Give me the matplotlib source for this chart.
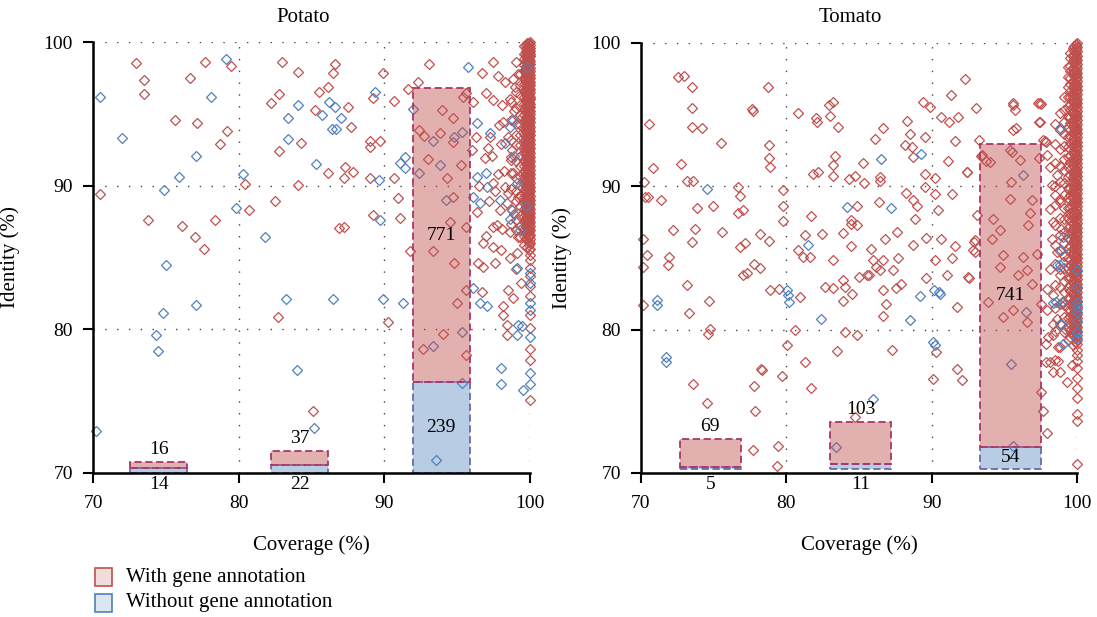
import matplotlib
matplotlib.use("Agg")
import matplotlib.pyplot as plt
from matplotlib.patches import Rectangle
from matplotlib.colors import to_rgba

plt.rcParams['font.family'] = ['Liberation Serif', 'DejaVu Serif']

RED = '#c0504d'
BLUE = '#4f81bd'

panel_titles = ['Potato', 'Tomato']
x_ticks = [70, 80, 90, 100]
y_ticks = [70, 80, 90, 100]
legend_labels = ['With gene annotation', 'Without gene annotation']

# ---------------- bar summaries (counts) ----------------
potato_bar_x = [74.5, 84.2, 93.9]
potato_with_counts = [16, 37, 771]
potato_without_counts = [14, 22, 239]
tomato_bar_x = [74.77, 85.12, 95.45]
tomato_with_counts = [69, 103, 741]
tomato_without_counts = [5, 11, 54]

# ---------------- Potato scatter ----------------
potato_with_pts = [
    (72.98, 98.52), (73.50, 97.36), (73.50, 96.38), (70.50, 89.40), (73.78, 87.62),
    (75.60, 94.60), (76.69, 97.50), (77.17, 94.34), (77.67, 98.63), (79.50, 98.33),
    (79.20, 93.83), (78.70, 92.90), (76.10, 87.20), (76.98, 86.40), (77.60, 85.60),
    (78.38, 87.62), (80.42, 90.10), (80.69, 88.30), (82.50, 88.94), (82.71, 80.85),
    (82.98, 98.63), (82.78, 96.38), (82.20, 95.78), (82.78, 92.44), (84.08, 97.94),
    (84.27, 93.00), (84.08, 90.03), (85.23, 95.30), (85.52, 96.55), (86.10, 96.85),
    (86.44, 97.82), (86.60, 98.45), (87.52, 95.50), (87.70, 94.11), (87.29, 91.33),
    (87.82, 90.98), (87.22, 90.56), (86.10, 90.90), (86.90, 87.04), (87.22, 87.15),
    (85.11, 74.33), (89.00, 93.11), (89.00, 92.72), (89.70, 93.10), (89.88, 97.82),
    (89.24, 96.08), (89.00, 90.52), (89.24, 87.97), (90.27, 80.50), (90.68, 95.92),
    (90.68, 90.52), (90.91, 89.13), (91.07, 87.73), (91.60, 96.70), (92.28, 97.24),
    (93.08, 98.45), (92.40, 93.88), (92.74, 93.46), (93.00, 91.84), (91.75, 85.42),
    (93.31, 85.42), (92.67, 78.62), (94.00, 79.69), (94.32, 90.52), (93.93, 95.27),
    (93.82, 93.70), (94.73, 94.69), (94.73, 93.07), (94.73, 89.24), (94.50, 87.50),
    (94.80, 84.65), (95.00, 81.82), (95.60, 78.23), (95.26, 91.44), (95.42, 96.20),
    (95.60, 96.43), (95.60, 82.75), (95.60, 87.15), (96.10, 95.85), (96.67, 97.82),
    (96.97, 96.43), (97.43, 98.63), (97.78, 97.66), (97.43, 95.97), (96.33, 88.20),
    (96.45, 84.60), (96.79, 84.37), (96.79, 86.00), (97.48, 85.76), (96.68, 82.63),
    (97.25, 93.42), (97.48, 90.17), (98.17, 94.46), (98.46, 82.75), (98.17, 81.59),
    (98.17, 81.01), (98.40, 80.32), (98.40, 79.62), (98.81, 82.17), (98.97, 96.89),
    (98.74, 92.49), (97.71, 87.27), (97.48, 87.15), (97.94, 88.31), (98.40, 88.78),
    (98.85, 90.86), (99.20, 86.46), (99.43, 94.81), (99.54, 90.86), (99.77, 85.76),
    (96.90, 91.90), (97.10, 92.60), (98.20, 91.00), (98.50, 89.50), (98.00, 85.50),
    (98.60, 86.80), (97.60, 89.60), (98.90, 88.00), (99.00, 84.20), (99.40, 83.20),
    (98.30, 97.20), (98.60, 96.00), (98.90, 95.20), (98.10, 95.60), (97.90, 94.20),
    (98.50, 93.40), (98.00, 92.90), (97.40, 92.10), (98.70, 91.80), (97.80, 90.80),
    (99.20, 89.20), (98.30, 89.90), (97.20, 88.90), (98.10, 87.00), (97.00, 86.50),
    (99.10, 85.30), (98.60, 85.00), (97.60, 84.60), (96.30, 93.40), (96.00, 92.50),
    (96.50, 90.00), (99.20, 97.80), (99.00, 98.60), (98.80, 97.40),
]
potato_without_pts = [
    (70.50, 96.20), (70.18, 72.90), (71.99, 93.30), (75.04, 84.49), (74.88, 89.71),
    (75.90, 90.63), (77.10, 92.09), (78.13, 96.20), (79.11, 98.82), (74.81, 81.17),
    (74.30, 79.62), (74.47, 78.51), (77.10, 81.70), (80.30, 90.82), (79.80, 88.43),
    (81.79, 86.41), (83.40, 94.69), (83.40, 93.25), (84.08, 95.62), (85.30, 91.51),
    (85.69, 94.92), (86.21, 95.85), (86.60, 95.50), (86.37, 93.93), (86.67, 93.93),
    (87.01, 94.74), (83.28, 82.10), (86.49, 82.10), (83.97, 77.19), (85.16, 73.13),
    (89.35, 96.55), (89.65, 90.40), (89.69, 87.62), (89.88, 82.10), (91.30, 81.82),
    (91.07, 91.56), (91.41, 92.02), (91.41, 91.21), (91.98, 95.34), (92.40, 90.86),
    (93.31, 93.11), (93.82, 91.44), (94.23, 89.00), (94.80, 93.42), (95.30, 93.76),
    (95.76, 98.28), (93.31, 78.85), (93.54, 70.92), (95.30, 76.26), (95.30, 79.78),
    (96.33, 94.34), (96.38, 90.63), (96.10, 89.24), (96.56, 88.78), (96.97, 90.86),
    (96.10, 82.87), (96.56, 81.82), (97.02, 81.59), (97.25, 93.65), (97.02, 89.94),
    (98.00, 77.30), (98.00, 76.21), (98.85, 94.57), (98.62, 94.11), (98.74, 88.31),
    (97.94, 89.00), (99.08, 84.26), (99.20, 80.32), (99.43, 80.20), (99.08, 79.62),
    (99.54, 75.79), (100.0, 76.95), (100.0, 76.21), (100.0, 79.50), (100.0, 81.36),
    (100.0, 81.82), (100.0, 83.20), (100.0, 83.90), (99.77, 98.28),
    (98.30, 93.00), (98.90, 92.10), (99.10, 90.20), (98.60, 87.70), (99.30, 86.90),
    (99.70, 88.60),
]
# dense column of hits near 100 % coverage (with annotation)
potato_col_x = [100.0, 99.95, 99.9, 99.85, 99.8, 99.75, 99.7, 99.6, 99.3, 99.0, 98.7]
potato_col_100 = [100.0, 99.8, 99.6, 99.4, 99.2, 99.0, 98.7, 98.5, 98.2, 98.0, 97.7, 97.5,
                  97.2, 97.0, 96.7, 96.5, 96.2, 96.0, 95.7, 95.5, 95.2, 95.0, 94.7, 94.4,
                  94.1, 93.8, 93.5, 93.2, 92.9, 92.6, 92.3, 92.0, 91.7, 91.4, 91.1, 90.8,
                  90.5, 90.2, 89.9, 89.6, 89.3, 89.0, 88.7, 88.4, 88.1, 87.8, 87.5, 87.2,
                  86.9, 86.6, 86.3, 86.0, 85.6, 85.2, 84.8, 84.3, 83.7, 83.0, 82.3, 81.0,
                  80.1, 78.6, 77.9, 75.1]
potato_col_9995 = [99.95, 99.65, 99.35, 99.05, 98.75, 98.45, 98.15, 97.85, 97.55, 97.25,
                   96.95, 96.65, 96.35, 96.05, 95.75, 95.45, 95.15, 94.85, 94.55, 94.25,
                   93.95, 93.65, 93.35, 93.05, 92.75, 92.45, 92.15, 91.85, 91.55, 91.25,
                   90.95, 90.65, 90.35, 90.05, 89.75, 89.45, 89.15, 88.85, 88.55, 88.25,
                   87.95, 87.65, 87.35, 87.05, 86.75, 86.4, 85.9]
potato_col_999 = [99.9, 99.5, 99.1, 98.8, 98.4, 98.1, 97.8, 97.4, 97.1, 96.8, 96.4, 96.1,
                  95.8, 95.4, 95.1, 94.8, 94.5, 94.2, 93.9, 93.6, 93.3, 93.0, 92.7, 92.4,
                  92.1, 91.8, 91.5, 91.2, 90.9, 90.6, 90.3, 90.0, 89.7, 89.4, 89.1, 88.8,
                  88.5, 88.2, 87.9, 87.6, 87.3, 87.0, 86.6, 86.1, 85.5]
potato_col_9985 = [99.75, 99.45, 99.15, 98.85, 98.55, 98.25, 97.95, 97.65, 97.35, 97.05,
                   96.75, 96.45, 96.15, 95.85, 95.55, 95.25, 94.95, 94.65, 94.35, 94.05,
                   93.75, 93.45, 93.15, 92.85, 92.55, 92.25, 91.95, 91.65, 91.35, 91.05,
                   90.75, 90.45, 90.15, 89.85, 89.55, 89.25, 88.95, 88.65, 88.35, 88.05,
                   87.75, 87.45, 87.15, 86.85, 86.5]
potato_col_998 = [99.9, 99.6, 99.3, 99.0, 98.6, 98.3, 97.9, 97.6, 97.2, 96.9, 96.5, 96.2,
                  95.8, 95.5, 95.1, 94.8, 94.4, 94.1, 93.7, 93.4, 93.0, 92.7, 92.3, 92.0,
                  91.6, 91.3, 90.9, 90.6, 90.2, 89.9, 89.5, 89.2, 88.8, 88.5, 88.1, 87.8,
                  87.4, 87.1, 86.7, 86.2]
potato_col_9975 = [99.55, 99.15, 98.75, 98.35, 97.95, 97.55, 97.15, 96.75, 96.35, 95.95,
                   95.55, 95.15, 94.75, 94.35, 93.95, 93.55, 93.15, 92.75, 92.35, 91.95,
                   91.55, 91.15, 90.75, 90.35, 89.95, 89.55, 89.15, 88.75, 88.35, 87.95,
                   87.55, 87.1]
potato_col_997 = [99.8, 99.4, 99.0, 98.6, 98.2, 97.8, 97.4, 97.0, 96.6, 96.3, 95.9, 95.6,
                  95.2, 94.8, 94.5, 94.1, 93.8, 93.4, 93.0, 92.6, 92.2, 91.9, 91.5, 91.2,
                  90.8, 90.4, 90.0, 89.6, 89.3, 88.9, 88.6, 88.2, 87.7, 87.3, 86.8, 86.3]
potato_col_996 = [99.7, 99.2, 98.8, 98.4, 98.0, 97.5, 97.1, 96.6, 96.2, 95.7, 95.3, 94.9,
                  94.4, 94.0, 93.6, 93.1, 92.7, 92.3, 91.8, 91.4, 91.0, 90.5, 90.1, 89.7,
                  89.2, 88.8, 88.4, 87.9, 87.5, 87.0, 86.5, 85.9]
potato_col_993 = [97.8, 97.0, 96.3, 95.6, 94.9, 94.2, 93.5, 92.8, 92.1, 91.4, 90.7, 90.0,
                  89.3, 88.6, 87.9, 87.2, 86.4]
potato_col_990 = [96.5, 95.4, 94.3, 93.5, 92.8, 91.7, 90.5, 89.6, 88.9, 87.6, 86.9]
potato_col_987 = [95.8, 94.6, 93.2, 92.0, 90.9, 89.8, 88.4, 87.3]

# ---------------- Tomato scatter ----------------
tomato_with_pts = [
    (72.57, 97.58), (72.98, 97.70), (73.48, 96.88), (73.48, 95.42), (73.48, 94.14),
    (74.17, 94.02), (70.57, 94.32), (70.85, 91.23), (70.21, 90.30), (70.28, 89.25),
    (70.46, 89.25), (71.35, 89.02), (72.75, 91.53), (73.14, 90.37), (73.60, 90.34),
    (75.48, 93.02), (73.87, 88.50), (74.97, 88.60), (72.18, 86.92), (73.71, 87.00),
    (73.48, 86.10), (70.16, 86.29), (70.39, 85.18), (70.16, 84.36), (71.95, 85.06),
    (71.88, 84.48), (70.11, 81.68), (73.14, 83.08), (73.32, 81.15), (74.70, 81.99),
    (74.74, 80.06), (74.63, 79.71), (73.60, 76.17), (74.56, 74.87), (75.59, 86.80),
    (76.69, 89.95), (76.81, 89.32), (76.65, 88.13), (76.99, 88.32), (76.81, 85.76),
    (77.15, 86.04), (76.99, 83.78), (77.27, 83.97), (77.77, 84.59), (78.18, 84.31),
    (77.65, 95.35), (77.68, 95.23), (78.76, 96.88), (78.80, 92.86), (78.80, 91.97),
    (78.87, 91.34), (78.18, 86.69), (78.80, 86.18), (78.87, 82.73), (79.51, 82.85),
    (78.25, 77.26), (78.30, 77.15), (77.77, 76.03), (77.84, 74.35), (77.68, 71.61),
    (79.44, 71.91), (79.33, 70.51), (79.67, 76.75), (79.79, 89.71), (79.79, 88.62),
    (79.79, 87.57), (80.82, 95.07), (80.02, 78.89), (80.59, 79.94), (80.93, 82.27),
    (80.82, 85.52), (81.12, 85.06), (81.28, 86.57), (81.69, 87.92), (81.62, 85.06),
    (81.28, 77.73), (81.67, 75.94), (82.03, 94.72), (82.08, 94.48), (83.00, 94.88),
    (82.95, 95.65), (83.22, 95.88), (83.57, 94.14), (83.34, 92.09), (83.22, 91.46),
    (81.85, 90.83), (82.19, 90.95), (83.18, 90.71), (82.47, 86.64), (83.22, 84.83),
    (82.65, 82.96), (83.22, 82.92), (83.52, 78.50), (83.91, 83.48), (84.03, 82.96),
    (83.91, 81.99), (84.07, 79.82), (84.83, 79.59), (84.55, 82.50), (84.32, 90.46),
    (84.71, 90.71), (84.83, 88.62), (83.91, 86.73), (84.48, 87.39), (84.48, 87.62),
    (84.83, 87.27), (84.48, 85.80), (85.01, 83.66), (85.29, 91.62), (85.34, 90.23),
    (85.52, 83.78), (85.81, 85.60), (85.70, 83.80), (85.93, 84.83), (86.16, 84.36),
    (86.09, 93.25), (86.62, 94.02), (86.43, 90.64), (86.43, 90.37), (86.39, 88.90),
    (86.78, 86.34), (86.62, 84.83), (86.43, 84.13), (86.66, 82.73), (86.62, 80.92),
    (86.89, 81.76), (87.34, 84.13), (87.58, 86.80), (87.69, 85.01), (87.53, 82.90),
    (87.87, 83.15), (87.28, 78.59), (84.71, 73.88), (88.27, 94.55), (88.50, 93.62),
    (88.15, 92.86), (88.62, 92.69), (88.73, 92.04), (88.22, 89.53), (88.73, 89.02),
    (89.00, 88.60), (88.85, 87.74), (88.69, 85.87), (89.53, 93.44), (89.41, 95.88),
    (89.87, 95.53), (89.57, 90.83), (89.53, 89.95), (89.64, 86.41), (89.64, 83.62),
    (90.22, 90.53), (90.22, 89.48), (90.45, 88.32), (90.22, 84.83), (90.67, 86.34),
    (91.02, 83.78), (90.11, 76.56), (90.28, 78.43), (90.63, 94.83), (91.17, 94.48),
    (91.36, 96.35), (91.82, 94.79), (91.59, 93.14), (91.13, 91.74), (91.43, 89.48),
    (91.43, 85.00), (91.59, 85.80), (91.77, 81.57), (91.77, 77.26), (92.12, 76.45),
    (92.28, 97.46), (92.46, 91.00), (92.57, 83.59), (92.90, 86.10), (92.97, 85.41),
    (93.08, 95.46), (93.26, 93.20), (93.42, 92.11), (93.72, 91.74), (93.15, 87.97),
    (95.60, 95.76), (95.76, 95.30), (95.60, 93.90), (95.83, 94.02), (95.37, 92.50),
    (95.48, 90.30), (97.43, 95.76), (97.55, 95.72), (97.36, 94.44), (97.78, 93.14),
    (97.89, 93.05), (97.39, 91.93), (97.94, 72.77), (97.66, 74.35), (97.55, 75.63),
    (97.89, 77.73), (98.35, 77.03), (98.70, 77.84), (97.89, 79.01), (98.35, 79.59),
    (97.55, 81.80), (97.94, 81.34), (98.35, 80.40),
    (94.00, 91.70), (93.43, 92.16), (95.50, 92.40), (96.07, 91.80), (95.38, 89.13),
    (96.87, 89.00), (94.23, 87.74), (94.69, 86.92), (94.12, 86.34), (93.00, 86.22),
    (96.64, 87.27), (96.76, 88.09), (94.92, 85.17), (96.30, 85.06), (97.22, 85.30),
    (96.53, 84.13), (95.95, 83.78), (96.87, 83.20), (94.69, 84.36), (93.89, 81.91),
    (95.61, 81.33), (96.53, 80.52), (94.92, 80.87), (92.86, 85.52), (92.51, 83.66),
    (92.40, 91.00), (95.60, 95.65), (97.32, 95.77), (97.44, 94.48), (97.67, 93.20),
    (97.90, 92.16), (98.13, 91.34), (98.59, 90.76), (98.25, 90.06), (98.48, 89.36),
    (98.82, 88.90), (98.13, 88.43), (98.36, 87.50), (98.93, 87.04), (98.25, 86.34),
    (98.59, 85.41), (99.05, 84.71), (98.13, 84.25), (98.82, 83.78), (97.90, 82.85),
    (98.36, 82.38), (99.05, 81.91), (98.59, 80.75), (99.16, 80.06), (98.03, 79.47),
    (98.70, 78.77), (98.13, 77.72), (98.82, 77.02), (99.62, 77.50), (99.28, 76.33),
]
tomato_without_pts = [
    (74.52, 89.83), (71.08, 82.08), (71.08, 81.68), (71.72, 78.08), (71.72, 77.71),
    (80.02, 82.73), (80.13, 82.38), (80.20, 81.91), (81.51, 85.87), (84.14, 88.55),
    (86.50, 91.86), (87.19, 88.50), (82.38, 80.75), (83.41, 71.79), (85.98, 75.17),
    (88.50, 80.64), (89.25, 92.27), (89.18, 82.31), (90.15, 82.73), (90.51, 82.62),
    (90.60, 82.50), (90.10, 79.12), (90.22, 78.89), (96.27, 90.76), (96.50, 81.22),
    (95.49, 77.61), (95.60, 71.91), (98.35, 81.85), (98.58, 81.92), (98.92, 80.40),
    (99.04, 79.01), (98.81, 84.48), (98.92, 85.52), (99.04, 86.46), (98.81, 94.02),
    (100.0, 84.13), (100.0, 83.00), (100.0, 81.90), (100.0, 81.60), (100.0, 81.20),
    (100.0, 80.60), (100.0, 79.80), (100.0, 79.40), (99.0, 81.90), (98.6, 84.50),
]
tomato_col_x = [100.0, 99.95, 99.9, 99.8, 99.7, 99.55, 99.4, 99.1, 98.8, 98.5]
tomato_col_100 = [100.0, 99.7, 99.4, 99.1, 98.8, 98.5, 98.2, 97.9, 97.6, 97.3, 97.0, 96.7,
                  96.4, 96.1, 95.8, 95.5, 95.2, 94.9, 94.6, 94.3, 94.0, 93.7, 93.4, 93.1,
                  92.8, 92.5, 92.2, 91.9, 91.6, 91.3, 91.0, 90.7, 90.4, 90.1, 89.8, 89.5,
                  89.2, 88.9, 88.6, 88.3, 88.0, 87.7, 87.4, 87.1, 86.8, 86.5, 86.2, 85.9,
                  85.6, 85.3, 85.0, 84.7, 84.4, 84.1, 83.8, 83.5, 83.2, 82.9, 82.6, 82.3,
                  82.0, 81.7, 81.4, 81.1, 80.8, 80.5, 80.2, 79.9, 79.6, 79.3, 79.0, 78.6,
                  78.2, 77.8, 77.3, 76.6, 75.9, 75.2, 74.1, 73.6, 70.6]
tomato_col_9995 = [99.9, 99.6, 99.3, 99.0, 98.7, 98.4, 98.1, 97.8, 97.5, 97.2, 96.9, 96.6,
                   96.3, 96.0, 95.7, 95.4, 95.1, 94.8, 94.5, 94.2, 93.9, 93.6, 93.3, 93.0,
                   92.7, 92.4, 92.1, 91.8, 91.5, 91.2, 90.9, 90.6, 90.3, 90.0, 89.7, 89.4,
                   89.1, 88.8, 88.5, 88.2, 87.9, 87.6, 87.3, 87.0, 86.7, 86.4, 86.1, 85.8,
                   85.5, 85.2, 84.9, 84.6, 84.3, 84.0, 83.7, 83.4, 83.1, 82.8, 82.5, 82.2,
                   81.9, 81.6, 81.3, 81.0, 80.7, 80.4, 80.1, 79.8, 79.5]
tomato_col_999 = [99.85, 99.55, 99.25, 98.95, 98.65, 98.35, 98.05, 97.75, 97.45, 97.15,
                  96.85, 96.55, 96.25, 95.95, 95.65, 95.35, 95.05, 94.75, 94.45, 94.15,
                  93.85, 93.55, 93.25, 92.95, 92.65, 92.35, 92.05, 91.75, 91.45, 91.15,
                  90.85, 90.55, 90.25, 89.95, 89.65, 89.35, 89.05, 88.75, 88.45, 88.15,
                  87.85, 87.55, 87.25, 86.95, 86.65, 86.35, 86.05, 85.75, 85.45, 85.15,
                  84.85, 84.55, 84.25, 83.95, 83.65, 83.35, 83.05, 82.75, 82.45, 82.15,
                  81.85, 81.55, 81.25, 80.95, 80.65, 80.35, 80.05, 79.75, 79.45, 79.1]
tomato_col_998 = [99.75, 99.45, 99.15, 98.85, 98.55, 98.25, 97.95, 97.65, 97.35, 97.05,
                  96.75, 96.45, 96.15, 95.85, 95.55, 95.25, 94.95, 94.65, 94.35, 94.05,
                  93.75, 93.45, 93.15, 92.85, 92.55, 92.25, 91.95, 91.65, 91.35, 91.05,
                  90.75, 90.45, 90.15, 89.85, 89.55, 89.25, 88.95, 88.65, 88.35, 88.05,
                  87.75, 87.45, 87.15, 86.85, 86.55, 86.25, 85.95, 85.65, 85.35, 85.05,
                  84.75, 84.45, 84.15, 83.85, 83.55, 83.25, 82.95, 82.65, 82.35, 82.05,
                  81.75, 81.45, 81.15, 80.85, 80.55, 80.25, 79.95, 79.65]
tomato_col_997 = [99.6, 99.1, 98.7, 98.2, 97.8, 97.3, 96.9, 96.4, 96.0, 95.5, 95.1, 94.6,
                  94.2, 93.7, 93.3, 92.8, 92.4, 91.9, 91.5, 91.0, 90.6, 90.1, 89.7, 89.2,
                  88.8, 88.3, 87.9, 87.4, 87.0, 86.5, 86.1, 85.6, 85.2, 84.7, 84.3, 83.8,
                  83.4, 82.9, 82.5, 82.0, 81.6, 81.1, 80.7, 80.2, 79.6, 78.9]
tomato_col_9955 = [99.3, 98.9, 98.4, 98.0, 97.5, 97.1, 96.6, 96.2, 95.7, 95.3, 94.8, 94.4,
                   93.9, 93.5, 93.0, 92.6, 92.1, 91.7, 91.2, 90.8, 90.3, 89.9, 89.4, 89.0,
                   88.5, 88.1, 87.6, 87.2, 86.7, 86.3, 85.8, 85.4, 84.9, 84.5, 84.0, 83.6,
                   83.1, 82.7, 82.2, 81.8, 81.3, 80.9, 80.4, 80.0, 79.5]
tomato_col_994 = [98.3, 97.6, 96.9, 96.2, 95.5, 94.8, 94.1, 93.4, 92.7, 92.0, 91.3, 90.6,
                  89.9, 89.2, 88.5, 87.8, 87.1, 86.4, 85.7, 85.0, 84.3, 83.6, 82.9, 82.2,
                  81.5, 80.8, 80.1, 79.3]
tomato_col_991 = [96.2, 95.3, 94.5, 93.6, 92.8, 91.9, 91.1, 90.2, 89.4, 88.5, 87.7, 86.8,
                  86.0, 85.1, 84.3, 83.4, 82.6, 81.7, 80.9, 79.8]
tomato_col_988 = [95.1, 93.9, 92.6, 91.4, 90.3, 89.1, 87.8, 86.6, 85.5, 84.2, 83.0, 81.8,
                  80.4, 78.8]
tomato_col_985 = [94.3, 92.9, 91.6, 90.0, 88.7, 87.3, 85.9, 84.6, 83.1, 81.5, 79.9, 77.9]


def draw_panel(ax, title, with_pts, without_pts, col_x, cols, bar_x, with_c, without_c,
               width, base, scale):
    mk = dict(linestyle='none', marker='D', ms=4.8, mfc='none', mew=0.9, clip_on=False)
    for x0, ys in zip(col_x, cols):
        ax.plot([x0] * len(ys), ys, mec=RED, zorder=2, **mk)
    wx, wy = zip(*with_pts)
    ax.plot(wx, wy, mec=RED, zorder=2, **mk)
    bx, by = zip(*without_pts)
    ax.plot(bx, by, mec=BLUE, zorder=2.1, **mk)

    h_wo = [c * scale for c in without_c]
    h_w = [c * scale for c in with_c]
    ax.bar(bar_x, h_wo, width, bottom=base, facecolor=to_rgba(BLUE, 0.40),
           edgecolor='#6a6aa6', linestyle=(0, (4, 2)), linewidth=1.3, zorder=3)
    bottoms = [base + h for h in h_wo]
    ax.bar(bar_x, h_w, width, bottom=bottoms, facecolor=to_rgba(RED, 0.45),
           edgecolor='#a8376a', linestyle=(0, (4, 2)), linewidth=1.3, zorder=3)

    for x, hw, hwo, cw, cwo, b in zip(bar_x, h_w, h_wo, with_c, without_c, bottoms):
        if hw > 6:
            ax.text(x, b + hw / 2, str(cw), ha='center', va='center', fontsize=14, zorder=5)
        else:
            ax.annotate(str(cw), (x, b + hw), xytext=(0, 9), textcoords='offset points',
                        ha='center', va='center', fontsize=14, zorder=5)
        if hwo > 1.2:
            ax.text(x, base + hwo / 2, str(cwo), ha='center', va='center', fontsize=14, zorder=5)
        else:
            ax.annotate(str(cwo), (x, 70), xytext=(0, -8.5), textcoords='offset points',
                        ha='center', va='center', fontsize=14, zorder=5)

    ax.set_xlim(70, 100)
    ax.set_ylim(70, 100)
    ax.set_xticks(x_ticks)
    ax.set_yticks(y_ticks)
    ax.grid(True, linestyle=(0, (1, 7.5)), color='#444444', linewidth=1.0, zorder=0)
    ax.set_axisbelow(True)
    for s in ['top', 'right']:
        ax.spines[s].set_visible(False)
    for s in ['left', 'bottom']:
        ax.spines[s].set_linewidth(1.8)
        ax.spines[s].set_zorder(4)
    ax.tick_params(axis='both', direction='out', length=7.5, width=1.5, labelsize=14)
    ax.tick_params(axis='x', pad=8)
    ax.tick_params(axis='y', pad=7)
    ax.text(0.48, 1.058, title, transform=ax.transAxes, ha='center', va='center', fontsize=15)
    ax.set_xlabel('Coverage (%)', fontsize=15)
    ax.set_ylabel('Identity (%)', fontsize=15)
    ax.xaxis.set_label_coords(0.5, -0.144)


fig = plt.figure(figsize=(10.97, 6.17), dpi=100)
ax1 = fig.add_axes([0.0848, 0.2334, 0.3984, 0.6985])
ax2 = fig.add_axes([0.5843, 0.2334, 0.3975, 0.6975])

draw_panel(ax1, panel_titles[0], potato_with_pts, potato_without_pts, potato_col_x,
           [potato_col_100, potato_col_9995, potato_col_999, potato_col_9985, potato_col_998,
            potato_col_9975, potato_col_997, potato_col_996, potato_col_993, potato_col_990,
            potato_col_987],
           potato_bar_x, potato_with_counts, potato_without_counts, 3.9, 70.0, 0.0265)
draw_panel(ax2, panel_titles[1], tomato_with_pts, tomato_without_pts, tomato_col_x,
           [tomato_col_100, tomato_col_9995, tomato_col_999, tomato_col_998, tomato_col_997,
            tomato_col_9955, tomato_col_994, tomato_col_991, tomato_col_988, tomato_col_985],
           tomato_bar_x, tomato_with_counts, tomato_without_counts, 4.2, 70.28, 0.0285)
ax1.yaxis.set_label_coords(-0.167, 0.5)
ax2.yaxis.set_label_coords(-0.158, 0.5)

# legend
leg_face = ['#f2dcdb', '#dce6f2']
leg_edge = [RED, BLUE]
leg_y = [0.0648, 0.0227]
for lab, fc, ec, yc in zip(legend_labels, leg_face, leg_edge, leg_y):
    fig.add_artist(Rectangle((0.0866, yc - 0.0146), 0.0155, 0.0292, transform=fig.transFigure,
                             facecolor=fc, edgecolor=ec, linewidth=1.2))
    fig.text(0.1149, yc, lab, ha='left', va='center', fontsize=15)

fig.savefig('out.png', dpi=100)
